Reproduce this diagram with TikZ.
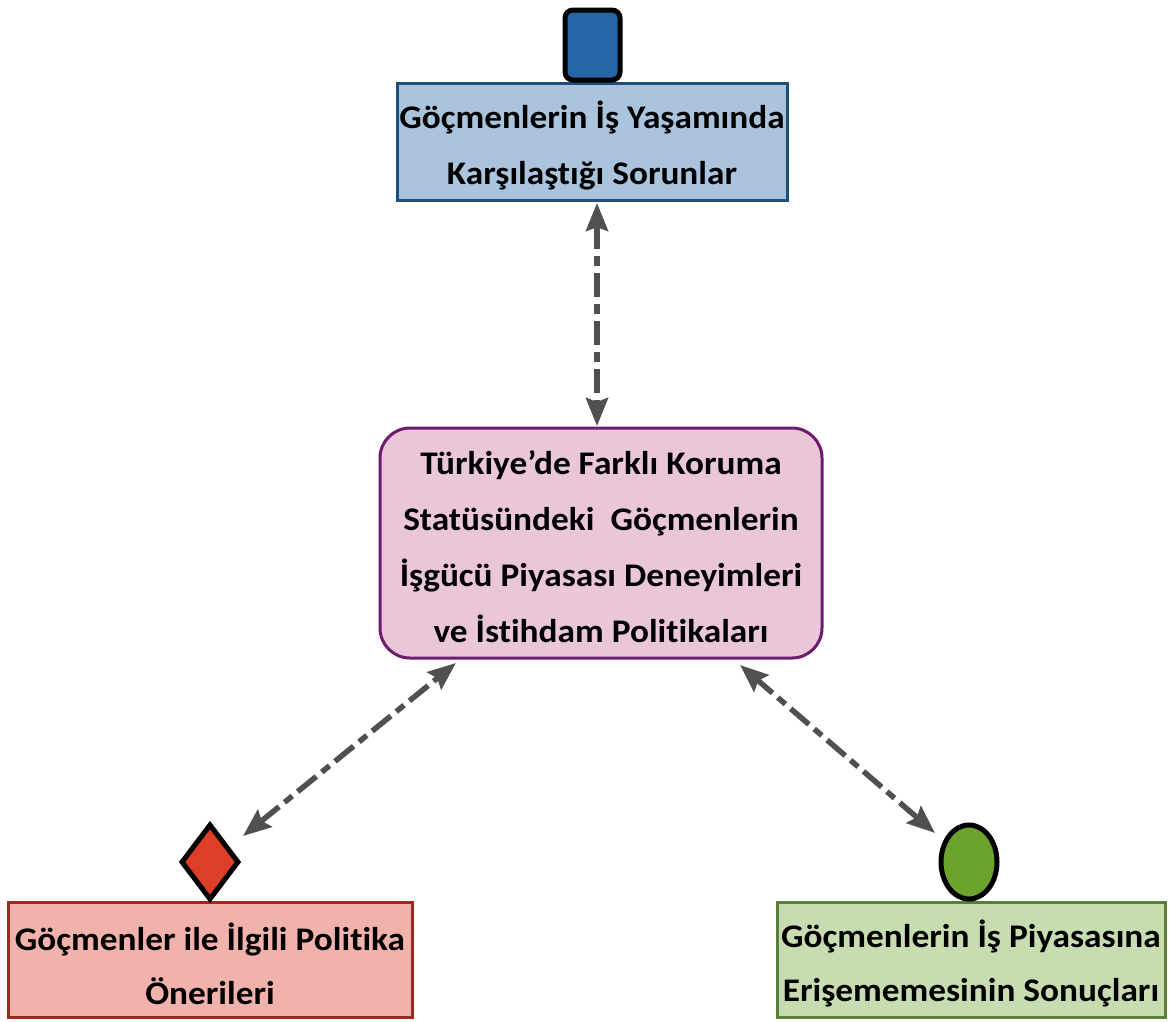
\documentclass[tikz,border=0pt]{standalone}
\usepackage{fontspec}
\setmainfont{Carlito}[FakeStretch=1.07,Ligatures={NoCommon}]
\usetikzlibrary{arrows.meta,shapes.geometric}
\definecolor{blueFill}{HTML}{ABC4DD}
\definecolor{blueLine}{HTML}{1F4E79}
\definecolor{blueMark}{HTML}{2565A4}
\definecolor{pinkFill}{HTML}{EAC6D9}
\definecolor{pinkLine}{HTML}{6E1A6E}
\definecolor{redFill}{HTML}{F2B2AC}
\definecolor{redLine}{HTML}{9E2A1E}
\definecolor{redMark}{HTML}{DD3F26}
\definecolor{greenFill}{HTML}{C7DDB1}
\definecolor{greenLine}{HTML}{5B7F36}
\definecolor{greenMark}{HTML}{6BA32C}
\definecolor{linkGray}{HTML}{505050}
\begin{document}
\begin{tikzpicture}[x=1pt,y=-1pt,
  boxtext/.style={font=\bfseries\fontsize{33}{56}\selectfont,align=center,text=black,yshift=-4pt},
  topic/.style={draw,line width=3pt,inner sep=0pt},
  marker/.style={draw=black,line width=5pt,inner sep=0pt},
  link/.style={draw=linkGray,line width=5.5pt,
    dash pattern=on 24pt off 7pt on 10pt off 7pt,
    {Stealth[length=28pt,width=22pt,inset=4pt]}-{Stealth[length=28pt,width=22pt,inset=4pt]}}
]
\useasboundingbox (0,0) rectangle (1170,1021);

% main topic
\node[topic,draw=pinkLine,fill=pinkFill,rounded corners=30pt,
  minimum width=442pt,minimum height=230pt] (core) at (601,543) {};
\node[boxtext] at (core.center) {Türkiye’de Farklı Koruma\\Statüsündeki\ \ Göçmenlerin\\İşgücü Piyasası Deneyimleri\\ve İstihdam Politikaları};

% upper box
\node[topic,draw=blueLine,fill=blueFill,minimum width=390pt,minimum height=117pt] (prob) at (592,141.5) {};
\node[boxtext] at (prob.center) {Göçmenlerin İş Yaşamında\\Karşılaştığı Sorunlar};
\node[marker,fill=blueMark,rounded corners=8pt,minimum width=55pt,minimum height=70pt] (probmark) at (592.5,45) {};

% lower left box
\node[topic,draw=redLine,fill=redFill,minimum width=404pt,minimum height=115pt] (pol) at (210,959.5) {};
\node[boxtext,font=\bfseries\fontsize{33}{54}\selectfont] at (pol.center) {Göçmenler ile İlgili Politika\\Önerileri};
\node[marker,fill=redMark,diamond,minimum width=58pt,minimum height=76pt] (polmark) at (210,862) {};

% lower right box
\node[topic,draw=greenLine,fill=greenFill,minimum width=388pt,minimum height=115pt] (res) at (971,959.5) {};
\node[boxtext,font=\bfseries\fontsize{33}{54}\selectfont] at (res.center) {Göçmenlerin İş Piyasasına\\Erişememesinin Sonuçları};
\node[marker,fill=greenMark,ellipse,minimum width=56pt,minimum height=74pt] (resmark) at (969,862) {};

% connectors
\coordinate (c1) at (597,426);
\coordinate (c2) at (456,663);
\coordinate (c3) at (740,665);
\coordinate (p1) at (597,203);
\coordinate (p2) at (243,836);
\coordinate (p3) at (935,833);
\draw[link] (p1) -- (c1);
\draw[link] (p2) -- (c2);
\draw[link] (p3) -- (c3);
\end{tikzpicture}
\end{document}
